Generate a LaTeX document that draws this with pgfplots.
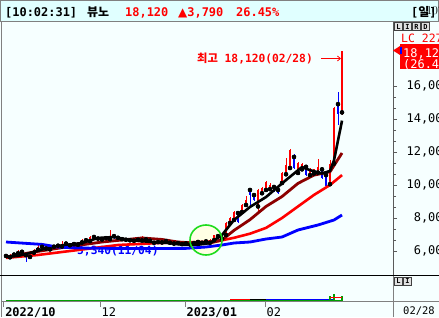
\documentclass[border=0pt]{standalone}
\usepackage{pgfplots}
\pgfplotsset{compat=1.18}
\usepackage{pgfplotstable}
\usepackage{fontspec}
\setmainfont{DejaVu Sans Mono}
\newfontfamily\kr{Noto Sans CJK KR}
\newfontfamily\sym{DejaVu Sans}
\usetikzlibrary{arrows.meta}

\definecolor{titlebg}{RGB}{224,255,255}
\definecolor{panelbg}{RGB}{246,255,255}
\definecolor{maroon}{RGB}{140,0,0}
\definecolor{cred}{RGB}{255,0,0}
\definecolor{cblue}{RGB}{0,0,255}
\definecolor{ring}{RGB}{30,220,30}
\definecolor{ringfill}{RGB}{255,255,228}
\definecolor{volgreen}{RGB}{0,160,0}
\definecolor{frame}{RGB}{128,128,128}
\definecolor{btn}{RGB}{225,225,225}

% up (red) candles: index open high low close
\pgfplotstableread{
i o h l c
1 5620 5820 5600 5780
2 5780 5900 5720 5860
3 5860 6050 5800 5950
6 5640 5920 5600 5900
7 5900 6120 5880 6080
8 6080 6450 6050 6250
11 6100 6300 6080 6260
12 6260 6380 6200 6320
14 6280 6600 6260 6450
16 6350 6480 6320 6420
18 6380 6560 6360 6520
19 6520 6700 6480 6650
21 6600 6920 6580 6850
24 6700 6800 6650 6780
26 6720 7250 6700 6900
32 6620 6700 6560 6680
34 6640 6900 6620 6700
37 6500 6580 6450 6540
39 6520 6620 6500 6600
42 6450 6520 6400 6480
44 6420 6500 6380 6460
46 6400 6520 6380 6480
47 6480 6580 6450 6550
49 6500 6620 6480 6580
51 6500 6700 6480 6650
52 6650 7000 6620 6950
54 6750 7000 6700 6950
55 6970 7750 6950 7700
56 7700 8050 7650 7980
57 7880 8400 7850 8360
59 8360 8850 8300 8790
60 8790 9330 8750 9090
63 8700 9750 8360 9700
64 9500 9850 9450 9820
65 9700 10250 9650 10180
66 9750 10100 9700 10000
69 10120 10800 10050 10730
70 10650 11640 10600 11200
71 11030 12200 11000 12120
73 10730 11400 10700 11330
74 10950 11350 10900 11250
76 10600 11050 10550 10980
77 10700 11000 10650 10950
78 10750 11600 10700 11100
81 10050 11500 10000 11300
82 11300 14700 11200 14690
84 14400 18120 14250 18120
}\upc

% down (blue) candles
\pgfplotstableread{
i o h l c
0 5700 5800 5580 5620
4 5950 5980 5700 5750
5 5750 5820 5340 5640
9 6250 6300 6120 6150
10 6150 6250 6050 6100
13 6320 6420 6250 6280
15 6450 6500 6300 6350
17 6420 6500 6350 6380
20 6650 6720 6550 6600
22 6850 6900 6700 6750
23 6750 6820 6680 6700
25 6780 6850 6700 6720
27 6900 6950 6750 6800
28 6800 6850 6700 6720
29 6720 6800 6650 6680
30 6680 6750 6600 6650
31 6650 6720 6580 6620
33 6680 6720 6600 6640
35 6700 6750 6600 6620
36 6620 6700 6450 6500
38 6540 6600 6480 6520
40 6600 6650 6480 6500
41 6500 6560 6420 6450
43 6480 6550 6400 6420
45 6460 6520 6380 6400
48 6550 6600 6480 6500
50 6580 6650 6480 6500
53 6900 6950 6680 6720
58 8300 8350 7700 7760
61 9700 9820 8600 9400
62 9390 9450 9050 9090
67 9880 10000 9550 9580
68 9700 9750 9450 9500
72 11700 11850 10950 11030
75 11100 11200 10550 10600
79 10950 11000 10350 10400
80 10600 10650 9850 9950
83 14900 15650 13650 14330
}\downc

% moving averages
\pgfplotstableread{
i v
0 5640
3 5700
7 5940
11 6240
15 6360
19 6480
23 6790
27 6850
31 6670
36 6550
41 6480
44 6380
48 6380
51 6480
54 6970
57 7880
61 8670
65 9270
70 10300
74 11090
76 10900
79 10700
81 10850
82 11500
83 12700
84 13900
}\maA

\pgfplotstableread{
i v
0 5640
7 5940
15 6240
24 6545
29 6667
34 6790
39 6700
43 6545
47 6485
51 6485
54 6667
57 7250
61 7900
65 8700
69 9300
73 10100
77 10600
81 10800
84 11940
}\maB

\pgfplotstableread{
i v
0 5580
8 5760
18 6060
28 6364
38 6480
48 6540
53 6600
57 6800
61 7050
65 7400
69 8000
73 8700
77 9400
81 10000
84 10600
}\maC

\pgfplotstableread{
i v
0 6545
4 6480
9 6400
13 6240
18 6180
30 6150
45 6160
50 6242
54 6364
57 6485
61 6545
65 6727
69 6848
73 7273
78 7576
82 7879
84 8182
}\maD

\pgfplotstableread{
i v
55 1
56 1
61 1.5
64 1
70 1
71 1
72 1
81 5
82 7
84 5
}\vol

\begin{document}
\begin{tikzpicture}[x=1bp,y=1bp]
\clip (0,0) rectangle (439,317);
\fill[panelbg] (0,0) rectangle (439,317);
% title bar
\fill[titlebg] (0,296) rectangle (439,317);
\draw[frame, line width=1bp] (0.5,296) rectangle (438.5,316.5);
\draw[frame, line width=1bp] (0,295.5) -- (439,295.5);
\draw[frame, line width=1bp] (1,0) -- (1,295.5);

\node[anchor=base west, inner sep=0pt, font=\fontsize{12}{12}\selectfont\bfseries] at (5,300.5) {[10:02:31]};
\node[anchor=base west, inner sep=0pt, font=\fontsize{12}{12}\selectfont\bfseries\kr] at (87,300.5) {뷰노};
\node[anchor=base west, inner sep=0pt, text=cred, font=\fontsize{12}{12}\selectfont\bfseries] at (125,300.5) {18,120};
\node[anchor=base west, inner sep=0pt, text=cred, font=\fontsize{12}{12}\selectfont\bfseries] at (178,300.5) {{\sym ▲}3,790};
\node[anchor=base west, inner sep=0pt, text=cred, font=\fontsize{12}{12}\selectfont\bfseries] at (236,300.5) {26.45\%};
\node[anchor=base west, inner sep=0pt, font=\fontsize{12}{12}\selectfont\bfseries] at (411,300.5) {[{\kr 일}]};

% ring background
\fill[ringfill] (206,77) ellipse [x radius=16, y radius=15];

% low annotation (under the lines)
\node[anchor=base west, inner sep=0pt, text=cblue, font=\fontsize{11.3}{11.3}\selectfont\bfseries] at (77,62.5) {5,340(11/04)};

\begin{axis}[
  at={(3bp,42bp)}, anchor=south west,
  width=390bp, height=253bp, scale only axis,
  xmin=-0.75, xmax=96.75, ymin=4545.5, ymax=19878.8,
  axis line style={draw=none},
  xtick=\empty,
  ytick pos=right, yticklabel pos=right,
  ytick={6000,8000,10000,12000,14000,16000},
  yticklabels={{6,000},{8,000},{10,000},{12,000},{14,000},{16,000}},
  minor y tick num=2,
  tick align=outside,
  major tick length=4bp, minor tick length=3bp,
  every tick/.style={draw=frame!70!black, line width=0.8bp},
  yticklabel style={anchor=east, inner sep=0pt, xshift=53bp, font=\fontsize{12}{12}\selectfont},
  line join=round,
]
% candles: wicks then bodies
\addplot[only marks, mark=none, error bars/.cd, y dir=both, y explicit, error mark=none,
  error bar style={draw=cred, line width=1bp}]
  table[x=i, y=o, y error plus expr=\thisrow{h}-\thisrow{o}, y error minus expr=\thisrow{o}-\thisrow{l}] {\upc};
\addplot[only marks, mark=none, error bars/.cd, y dir=plus, y explicit, error mark=none,
  error bar style={draw=cred, line width=2.6bp}]
  table[x=i, y=o, y error plus expr=\thisrow{c}-\thisrow{o}] {\upc};
\addplot[only marks, mark=none, error bars/.cd, y dir=both, y explicit, error mark=none,
  error bar style={draw=cblue, line width=1bp}]
  table[x=i, y=o, y error plus expr=\thisrow{h}-\thisrow{o}, y error minus expr=\thisrow{o}-\thisrow{l}] {\downc};
\addplot[only marks, mark=none, error bars/.cd, y dir=minus, y explicit, error mark=none,
  error bar style={draw=cblue, line width=2.6bp}]
  table[x=i, y=o, y error minus expr=\thisrow{o}-\thisrow{c}] {\downc};
% moving averages
\addplot[cred, line width=2.6bp, mark=none] table[x=i, y=v] {\maC};
\addplot[maroon, line width=2.8bp, mark=none] table[x=i, y=v] {\maB};
\addplot[black, line width=2.6bp, mark=none] table[x=i, y=v] {\maA};
\addplot[cblue, line width=2.8bp, mark=none] table[x=i, y=v] {\maD};
\end{axis}
\draw[frame!70!black, line width=1bp] (393,42) -- (393,295.5);

% ring outline
\draw[ring, line width=1.6bp] (206,77) ellipse [x radius=16, y radius=15];

% high annotation
\node[anchor=base west, inner sep=0pt, text=cred, font=\fontsize{11.3}{11.3}\selectfont\bfseries] at (197,255) {{\kr 최고} 18,120(02/28)};
\draw[cred, line width=0.8bp, -{Straight Barb[length=3bp, width=5bp]}] (321,258.5) -- (341,258.5);

% right price box
\node[anchor=base west, inner sep=0pt, text=cred, font=\fontsize{11.5}{11.5}\selectfont] at (401,275) {LC 227,};
\fill[cred] (400,248) rectangle (439,273);
\fill[cred] (393,266.5) -- (400,271) -- (400,262) -- cycle;
\fill[cblue] (400,263) rectangle (402,270);
\node[anchor=base west, inner sep=0pt, text=white, font=\fontsize{12}{12}\selectfont] at (403,260) {18,120};
\node[anchor=base west, inner sep=0pt, text=white, font=\fontsize{12}{12}\selectfont] at (403,249) {(26.45};

% L I R D buttons
\foreach \t [count=\n from 0] in {L,I,R,D} {
  \draw[fill=btn, draw=frame!50!black, line width=0.6bp] (394.5+9*\n,286.5) rectangle (402.5+9*\n,294.5);
  \node[inner sep=0pt, font=\fontsize{7}{7}\selectfont\bfseries] at (398.5+9*\n,290.5) {\t};
}

% panel separators
\draw[black, line width=1.3bp] (0,41.5) -- (439,41.5);
\draw[frame, line width=1bp] (393,0) -- (393,41.5);
\draw[frame, line width=1bp] (1,16) -- (439,16);
\foreach \t [count=\n from 0] in {L,I} {
  \draw[fill=btn, draw=frame!50!black, line width=0.6bp] (394.5+9*\n,32) rectangle (402.5+9*\n,40);
  \node[inner sep=0pt, font=\fontsize{7}{7}\selectfont\bfseries] at (398.5+9*\n,36) {\t};
}

% volume panel and date axis
\begin{axis}[
  at={(3bp,16bp)}, anchor=south west,
  width=390bp, height=25bp, scale only axis,
  xmin=-0.75, xmax=96.75, ymin=0, ymax=25,
  axis line style={draw=none},
  ytick=\empty,
  xtick pos=bottom,
  xtick={-0.6,23.5,44.75,64.75},
  xticklabels={\textbf{2022/10},12,\textbf{2023/01},02},
  tick align=outside, major tick length=6bp,
  every tick/.style={draw=frame, line width=1bp},
  xticklabel style={anchor=north west, inner sep=0pt, xshift=1.5bp, yshift=0bp, font=\fontsize{12}{12}\selectfont},
  clip=false,
]
\addplot[volgreen, line width=1.2bp, mark=none] coordinates {(0,0.6) (84,0.6)};
\addplot[cred, line width=1bp, mark=none] coordinates {(56,1.2) (64,1.2)};
\addplot[cblue, line width=1bp, mark=none] coordinates {(64,1.2) (82,1.2)};
\addplot[black, line width=1bp, mark=none] coordinates {(61,1.6) (65,1.6)};
\addplot[ycomb, volgreen, line width=2.5bp, mark=none] table[x=i, y=v] {\vol};
\addplot[cred, line width=1bp, mark=none] coordinates {(81,3.4) (84,3.4)};
\end{axis}
\node[anchor=base west, inner sep=0pt, font=\fontsize{10.5}{10.5}\selectfont] at (403,3) {02/28};
\end{tikzpicture}
\end{document}
